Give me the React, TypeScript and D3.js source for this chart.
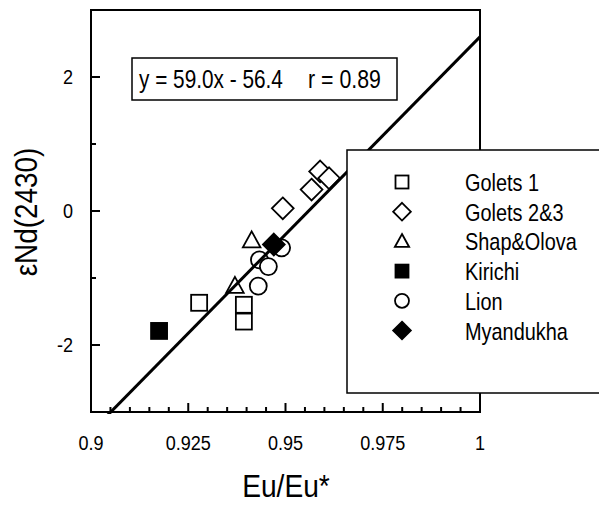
import React from "react";
import * as d3 from "d3";

const xTicksMajor = [0.9, 0.925, 0.95, 0.975, 1];
const yTicksMajor = [-2, 0, 2];
const fitSlope = 59.0;
const fitIntercept = -56.4;

const golets1X = [0.9278, 0.9393, 0.9393];
const golets1Y = [-1.37, -1.40, -1.65];
const golets23X = [0.9493, 0.9567, 0.9589, 0.9612];
const golets23Y = [0.04, 0.32, 0.59, 0.49];
const shapX = [0.9413, 0.937];
const shapY = [-0.44, -1.12];
const kirichiX = [0.9175];
const kirichiY = [-1.79];
const lionX = [0.949, 0.9433, 0.9456, 0.943];
const lionY = [-0.55, -0.73, -0.83, -1.12];
const myanX = [0.947];
const myanY = [-0.5];

const legendLabels = ["Golets 1", "Golets 2&3", "Shap&Olova", "Kirichi", "Lion", "Myandukha"];

const W = 599, H = 505;
const L = 91, R = 480, T = 10, B = 412;
const FONT = "'Liberation Sans', Arial, sans-serif";

type Kind = "square" | "diamond" | "triangle" | "circle";

function NText({ x, y, size, sx, anchor, children }: { x: number; y: number; size: number; sx: number; anchor?: string; children: React.ReactNode }) {
  return (
    <text transform={`translate(${x},${y}) scale(${sx},1)`} textAnchor={anchor || "start"} fontFamily={FONT} fontSize={size} xmlSpace="preserve">
      {children}
    </text>
  );
}

function Marker({ kind, filled, cx, cy, s }: { kind: Kind; filled: boolean; cx: number; cy: number; s: number }) {
  const fill = filled ? "#000" : "#fff";
  const common = { fill, stroke: "#000", strokeWidth: 1.8 };
  if (kind === "square") return <rect x={cx - s / 2} y={cy - s / 2} width={s} height={s} {...common} />;
  if (kind === "circle") return <circle cx={cx} cy={cy} r={s / 2 + 0.5} {...common} />;
  if (kind === "diamond") {
    const r = s * 0.68;
    return <path d={`M${cx},${cy - r}L${cx + r},${cy}L${cx},${cy + r}L${cx - r},${cy}Z`} {...common} />;
  }
  const h = s * 0.95;
  return <path d={`M${cx},${cy - h * 0.6}L${cx + s * 0.55},${cy + h * 0.45}L${cx - s * 0.55},${cy + h * 0.45}Z`} {...common} />;
}

export default function App() {
  const x = d3.scaleLinear().domain([0.9, 1]).range([L, R]);
  const y = d3.scaleLinear().domain([-3, 3]).range([B, T]);
  const minorX = d3.range(0, 21).map((i) => 0.9 + i * 0.005).filter((v) => !xTicksMajor.some((m) => Math.abs(m - v) < 1e-9));
  const minorY = [-3, -1, 1, 3];

  const series: { kind: Kind; filled: boolean; xs: number[]; ys: number[] }[] = [
    { kind: "square", filled: false, xs: golets1X, ys: golets1Y },
    { kind: "diamond", filled: false, xs: golets23X, ys: golets23Y },
    { kind: "triangle", filled: false, xs: shapX, ys: shapY },
    { kind: "square", filled: true, xs: kirichiX, ys: kirichiY },
    { kind: "circle", filled: false, xs: lionX, ys: lionY },
    { kind: "diamond", filled: true, xs: myanX, ys: myanY },
  ];

  const yBottom = -3.12;
  const x0 = (yBottom - fitIntercept) / fitSlope;
  const x1 = 1;
  const line = d3.line<number>().x((v) => x(v)).y((v) => y(fitSlope * v + fitIntercept));

  return (
    <svg width={W} height={H} style={{ position: "absolute", left: 0, top: 0, background: "#fff" }}>
      <rect width={W} height={H} fill="#fff" />
      <defs>
        <clipPath id="pc">
          <rect x={L} y={T} width={R - L} height={B - T + 2} />
        </clipPath>
      </defs>
      <rect x={L} y={T} width={R - L} height={B - T} fill="none" stroke="#000" strokeWidth={2} />
      {xTicksMajor.map((v) => (
        <line key={"xm" + v} x1={x(v)} x2={x(v)} y1={B} y2={B - 9} stroke="#000" strokeWidth={2} />
      ))}
      {minorX.map((v) => (
        <line key={"xn" + v} x1={x(v)} x2={x(v)} y1={B} y2={B - 5} stroke="#000" strokeWidth={2} />
      ))}
      {yTicksMajor.map((v) => (
        <line key={"ym" + v} x1={L} x2={L + 9} y1={y(v)} y2={y(v)} stroke="#000" strokeWidth={2} />
      ))}
      {minorY.map((v) => (
        <line key={"yn" + v} x1={L} x2={L + 5} y1={y(v)} y2={y(v)} stroke="#000" strokeWidth={2} />
      ))}
      {xTicksMajor.map((v) => (
        <NText key={"xl" + v} x={x(v)} y={450} size={21} sx={0.86} anchor="middle">
          {d3.format("")(v)}
        </NText>
      ))}
      {yTicksMajor.map((v) => (
        <NText key={"yl" + v} x={73} y={y(v) + 7} size={21} sx={0.86} anchor="end">
          {String(v)}
        </NText>
      ))}
      <NText x={286} y={497} size={32} sx={0.88} anchor="middle">Eu/Eu*</NText>
      <text transform={`translate(37,212) rotate(-90) scale(0.9,1)`} textAnchor="middle" fontFamily={FONT} fontSize={31}>εNd(2430)</text>

      <g>
        {series.map((s, si) =>
          s.xs.map((xv, i) => (
            <Marker key={si + "-" + i} kind={s.kind} filled={s.filled} cx={x(xv)} cy={y(s.ys[i])} s={16} />
          ))
        )}
      </g>
      <path d={line([x0, x1]) || ""} fill="none" stroke="#000" strokeWidth={3} clipPath="url(#pc)" />

      <rect x={132} y={58} width={265} height={42} fill="#fff" stroke="#000" strokeWidth={1.5} />
      <NText x={139} y={88} size={26} sx={0.8}>y = 59.0x - 56.4</NText>
      <NText x={308} y={88} size={26} sx={0.82}>r = 0.89</NText>

      <rect x={347} y={150} width={260} height={243} fill="#fff" stroke="#000" strokeWidth={1.5} />
      {series.map((s, i) => {
        const cy = 182 + i * 29.7;
        return (
          <g key={"lg" + i}>
            <Marker kind={s.kind} filled={s.filled} cx={402} cy={cy} s={13} />
            <NText x={465} y={cy + 9} size={24} sx={0.83}>{legendLabels[i]}</NText>
          </g>
        );
      })}
    </svg>
  );
}
